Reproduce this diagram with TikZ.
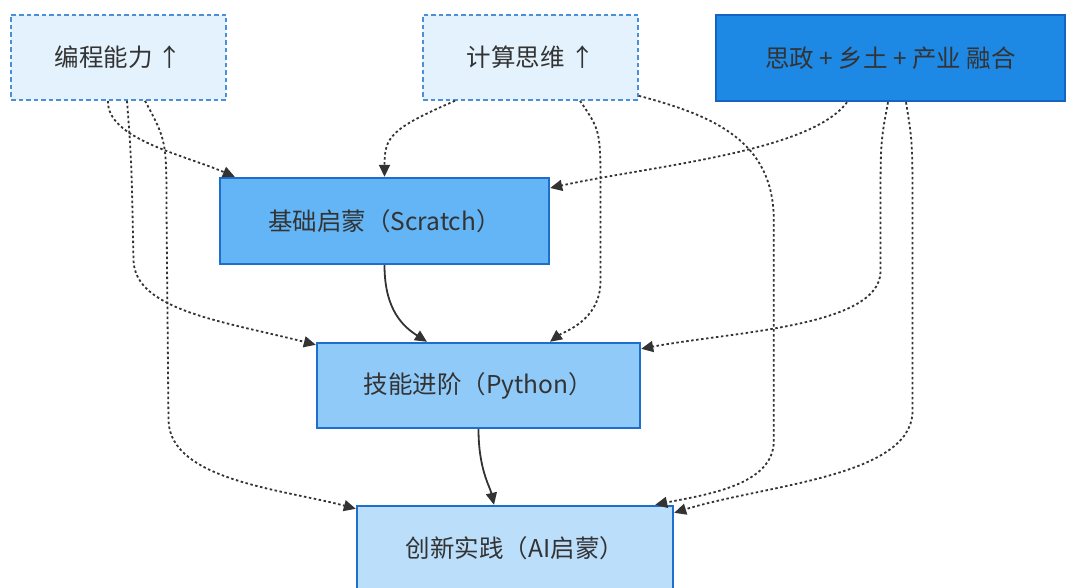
\documentclass[tikz,border=0pt]{standalone}
\usepackage{fontspec}
\setmainfont{Noto Sans CJK SC}
\usetikzlibrary{arrows.meta,calc}
\definecolor{txt}{HTML}{333333}
\definecolor{bord}{HTML}{1E6FCC}
\definecolor{dbord}{HTML}{1565C0}
\definecolor{fa}{HTML}{E3F2FD}
\definecolor{fc}{HTML}{1E88E5}
\definecolor{fd}{HTML}{64B5F6}
\definecolor{fe}{HTML}{90CAF9}
\definecolor{ff}{HTML}{BBDEFB}
\definecolor{dbl}{HTML}{4A8FD8}
\tikzset{
  box/.style={rectangle, inner sep=0pt, text=txt, font=\fontsize{24.5}{28}\selectfont},
  goalbox/.style={box, fill=fa, draw=dbl, line width=1.6pt, dash pattern=on 4.5pt off 3pt},
  solidbox/.style={box, draw=bord, line width=2.4pt},
  dotedge/.style={draw=txt, line width=1.8pt, dash pattern=on 2.5pt off 2.5pt, -{Triangle[length=12pt,width=11pt]}},
  soledge/.style={draw=txt, line width=1.8pt, -{Triangle[length=12pt,width=11pt]}},
}
\begin{document}
\begin{tikzpicture}[x=1pt,y=-1pt]
\useasboundingbox (0,0) rectangle (1067,588);
\node[goalbox, minimum width=215pt, minimum height=85pt] (A) at (118.5,57.5) {编程能力 ↑};
\node[goalbox, minimum width=215pt, minimum height=85pt] (B) at (530.5,57.5) {计算思维 ↑};
\node[solidbox, fill=fc, draw=dbord, minimum width=349pt, minimum height=86pt] (C) at (890.5,58) {思政 + 乡土 + 产业 融合};
\node[solidbox, fill=fd, minimum width=329pt, minimum height=86pt] (D) at (384.5,221) {基础启蒙（Scratch）};
\node[solidbox, fill=fe, minimum width=323pt, minimum height=85pt] (E) at (478.5,385.5) {技能进阶（Python）};
\node[solidbox, fill=ff, minimum width=316pt, minimum height=85pt] (F) at (515,548.5) {创新实践（AI启蒙）};
% solid edges
\draw[soledge] (D.south) .. controls ($(D.south)+(0,45)$) and ($(E.north)+(-75,-15)$) .. ($(E.north)+(-51.5,0)$);
\draw[soledge] (E.south) .. controls ($(E.south)+(0,40)$) and ($(F.north)+(-25,-18)$) .. ($(F.north)+(-21,0)$);
% from A
\draw[dotedge] ($(A.south)+(-10.5,0)$) .. controls ($(A.south)+(-12,38)$) and ($(D.north west)+(-35,-22)$) .. ($(D.north west)+(16,0)$);
\draw[dotedge] ($(A.south)+(8.5,0)$) .. controls ($(A.south)+(13,60)$) .. ($(A.south)+(15,160)$) .. controls ($(A.south)+(17,210)$) and ($(E.north west)+(-90,-20)$) .. ($(E.north west)+(0,3)$);
\draw[dotedge] ($(A.south)+(26.5,0)$) .. controls ($(A.south)+(48,40)$) .. ($(A.south)+(48,110)$) -- ($(A.south)+(50,320)$) .. controls ($(A.south)+(52,380)$) and ($(F.north west)+(-70,-15)$) .. ($(F.north west)+(0,4)$);
% from B
\draw[dotedge] ($(B.south)+(-75.5,0)$) .. controls ($(B.south)+(-140,28)$) and ($(D.north)+(0,-40)$) .. (D.north);
\draw[dotedge] ($(B.south)+(49.5,0)$) .. controls ($(B.south)+(70,30)$) .. ($(B.south)+(70,90)$) -- ($(B.south)+(70,180)$) .. controls ($(B.south)+(70,220)$) and ($(E.north)+(85,-10)$) .. ($(E.north)+(71.5,0)$);
\draw[dotedge] ($(B.south east)+(0,-5)$) .. controls ($(B.south east)+(75,15)$) and ($(B.south east)+(135,40)$) .. ($(B.south east)+(135,120)$) -- ($(B.south east)+(135,340)$) .. controls ($(B.south east)+(135,385)$) and ($(F.north east)+(30,-10)$) .. ($(F.north east)+(-19,0)$);
% from C
\draw[dotedge] ($(C.south)+(-43.5,0)$) .. controls ($(C.south)+(-80,50)$) and ($(D.east)+(100,-55)$) .. ($(D.east)+(0,-33)$);
\draw[dotedge] ($(C.south)+(-2.5,0)$) .. controls ($(C.south)+(-10,40)$) .. ($(C.south)+(-10,110)$) -- ($(C.south)+(-10,170)$) .. controls ($(C.south)+(-12,225)$) and ($(E.north east)+(90,-10)$) .. ($(E.north east)+(0,7)$);
\draw[dotedge] ($(C.south)+(15.5,0)$) .. controls ($(C.south)+(22,40)$) .. ($(C.south)+(22,110)$) -- ($(C.south)+(22,310)$) .. controls ($(C.south)+(20,375)$) and ($(F.north east)+(90,-20)$) .. ($(F.north east)+(0,8)$);
\end{tikzpicture}
\end{document}
